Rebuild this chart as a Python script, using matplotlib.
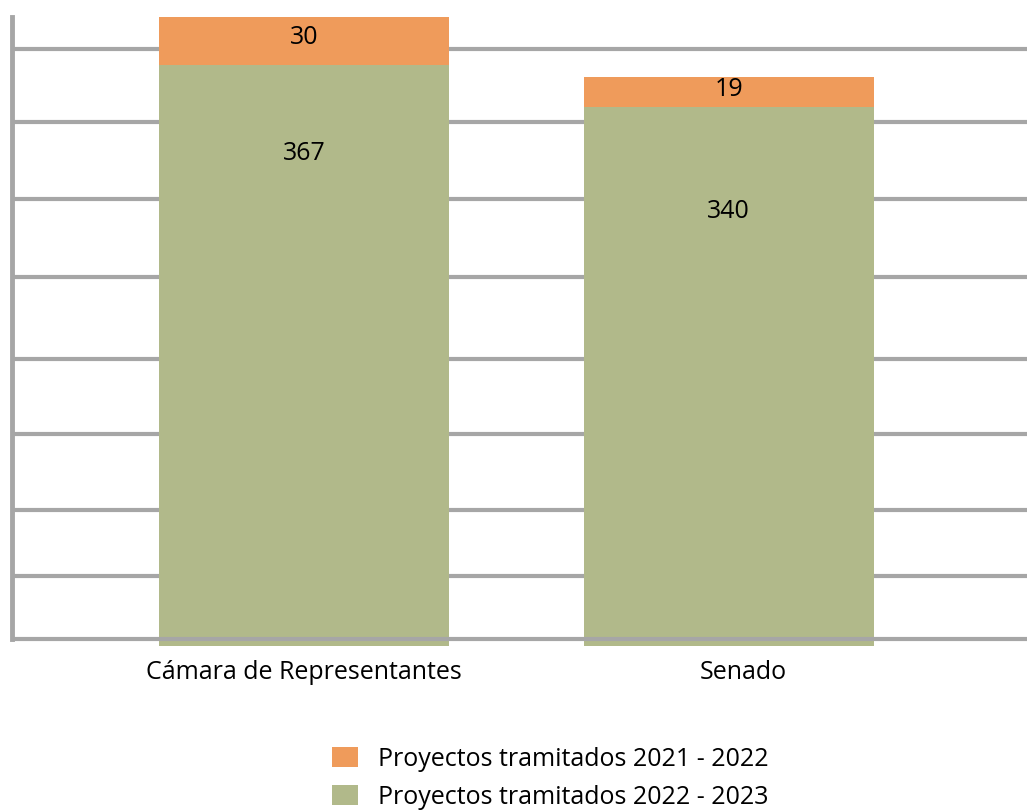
import matplotlib
matplotlib.use("Agg")
import matplotlib.pyplot as plt
import matplotlib.transforms as mtransforms
from matplotlib.patches import Patch

plt.rcParams["font.family"] = ["Open Sans", "DejaVu Sans"]

CATEGORIES = ["Cámara de Representantes", "Senado"]
SERIES_LOW = [367, 340]    # Proyectos tramitados 2022 - 2023 (bottom, green)
SERIES_TOP = [30, 19]      # Proyectos tramitados 2021 - 2022 (top, orange)
LEGEND_LABELS = ["Proyectos tramitados 2021 - 2022", "Proyectos tramitados 2022 - 2023"]

GREEN = "#B1B98A"
ORANGE = "#EF9B5B"
GRID = "#A6A6A6"

# irregular gridline levels (data units)
GRID_LEVELS = [377, 331, 282, 233, 181, 134, 86, 44]
AXIS_LEVEL = 4.4
# vertical placement of the inside labels (fraction of the green segment)
LOW_LABEL_FRAC = [0.847, 0.806]

fig = plt.figure(figsize=(10.27, 8.10), dpi=100)
ax = fig.add_axes([12 / 1027, 1 - 646 / 810, 1015 / 1027, 629 / 810])

x = list(range(len(CATEGORIES)))
ax.set_xlim(-0.688, 1.703)
ax.set_ylim(0, 397)

for g in GRID_LEVELS:
    ax.axhline(g, color=GRID, lw=3, zorder=1)

ax.bar(x, SERIES_LOW, width=0.683, color=GREEN, zorder=2)
ax.bar(x, SERIES_TOP, width=0.683, bottom=SERIES_LOW, color=ORANGE, zorder=2)

ax.axhline(AXIS_LEVEL, color=GRID, lw=3, zorder=3)
ax.axvline(ax.get_xlim()[0], ymin=AXIS_LEVEL / 397, ymax=1, color=GRID, lw=3.5,
           zorder=3, clip_on=False)

for xi, lo, hi, frac in zip(x, SERIES_LOW, SERIES_TOP, LOW_LABEL_FRAC):
    ax.text(xi, lo + hi / 2 + 2, str(hi), ha="center", va="center", fontsize=18)
    ax.text(xi, lo * frac, str(lo), ha="center", va="center", fontsize=18)

for s in ax.spines.values():
    s.set_visible(False)
ax.set_yticks([])
ax.set_xticks(x)
ax.set_xticklabels(CATEGORIES, fontsize=18)
ax.tick_params(axis="x", length=0, pad=10)

# the Senado label sits a little right of its bar in the reference
shift = mtransforms.ScaledTranslation(0.15, 0, fig.dpi_scale_trans)
lbl = ax.get_xticklabels()[1]
lbl.set_transform(lbl.get_transform() + shift)

handles = [Patch(facecolor=ORANGE), Patch(facecolor=GREEN)]
fig.legend(handles, LEGEND_LABELS, loc="center", bbox_to_anchor=(550 / 1027, 1 - 778 / 810),
           frameon=False, fontsize=18, handlelength=1.05, handleheight=0.9,
           handletextpad=0.8, labelspacing=0.52)

fig.savefig("out.png", dpi=100, facecolor="white")
